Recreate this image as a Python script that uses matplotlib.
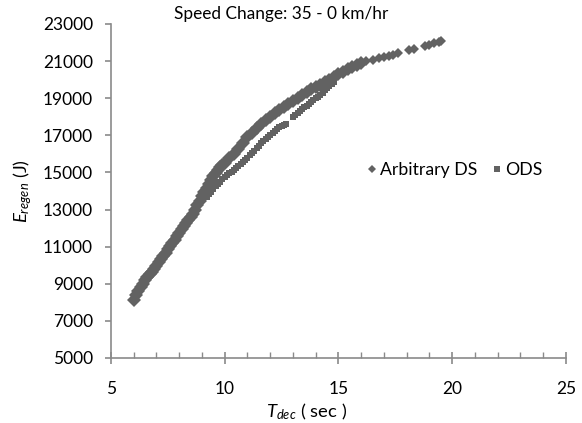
import matplotlib
matplotlib.use("Agg")
import matplotlib.pyplot as plt
from matplotlib.lines import Line2D
from matplotlib.ticker import MultipleLocator

plt.rcParams['font.family'] = ['Lato', 'DejaVu Sans']
plt.rcParams['mathtext.fontset'] = 'custom'
plt.rcParams['mathtext.rm'] = 'Lato'
plt.rcParams['mathtext.it'] = 'Lato:italic'

GRAY = '#626262'
AXIS = '#8a8a8a'

# Arbitrary DS - dense band
arb_t = [6.0, 6.1, 6.2, 6.3, 6.4, 6.5, 6.6, 6.7, 6.8, 6.9,
         7.0, 7.1, 7.2, 7.3, 7.4, 7.5, 7.6, 7.7, 7.8, 7.9,
         8.0, 8.1, 8.2, 8.3, 8.4, 8.5, 8.6, 8.7, 8.8, 8.9,
         9.0, 9.1, 9.2, 9.3, 9.4, 9.5, 9.6, 9.7, 9.8, 9.9,
         10.0, 10.2, 10.4, 10.6, 10.8, 11.0, 11.2, 11.4, 11.6, 11.8,
         12.0, 12.2, 12.4, 12.6, 12.8, 13.0, 13.2, 13.4, 13.6, 13.8,
         14.0, 14.2, 14.4, 14.6, 14.8, 15.0, 15.2, 15.4, 15.6, 15.8,
         16.0]
arb_e = [8150, 8380, 8600, 8800, 9000, 9180, 9350, 9500, 9650, 9800,
         9980, 10160, 10340, 10510, 10680, 10850, 11020, 11200, 11380, 11560,
         11750, 11930, 12100, 12260, 12420, 12590, 12780, 12990, 13220, 13460,
         13710, 13950, 14180, 14400, 14600, 14800, 14980, 15130, 15270, 15400,
         15520, 15780, 16000, 16270, 16580, 16900, 17150, 17400, 17600, 17800,
         18000, 18180, 18360, 18540, 18700, 18850, 19000, 19170, 19320, 19470,
         19600, 19730, 19850, 19980, 20130, 20280, 20430, 20580, 20700, 20800,
         20900]

# Arbitrary DS - sparse tail
arb_tail_t = [16.2, 16.5, 16.8, 17.0, 17.2, 17.4, 17.6, 18.1, 18.3,
              18.8, 19.0, 19.2, 19.4, 19.5]
arb_tail_e = [20980, 21080, 21150, 21230, 21280, 21350, 21420, 21600, 21650,
              21800, 21880, 21960, 22050, 22100]

# ODS - lower branch
ods_t = [9.2, 9.3, 9.4, 9.5, 9.6, 9.7, 9.8, 9.9, 10.0, 10.1,
         10.2, 10.3, 10.4, 10.5, 10.6, 10.7, 10.8, 10.9, 11.0, 11.1,
         11.2, 11.3, 11.4, 11.5, 11.6, 11.7, 11.8, 11.9, 12.0, 12.1,
         12.2, 12.3, 12.4, 12.5, 12.6, 12.7,
         13.0, 13.1, 13.2, 13.3, 13.4, 13.5, 13.6, 13.7, 13.8, 13.9,
         14.0, 14.1, 14.2, 14.3, 14.4, 14.5, 14.6, 14.7, 14.8]
ods_e = [13700, 13830, 13970, 14110, 14250, 14380, 14510, 14640, 14750, 14850,
         14950, 15050, 15150, 15250, 15350, 15450, 15560, 15680, 15800, 15920,
         16050, 16180, 16310, 16440, 16560, 16670, 16780, 16890, 17000, 17110,
         17220, 17330, 17430, 17500, 17560, 17620,
         18000, 18100, 18200, 18300, 18400, 18500, 18600, 18700, 18800, 18900,
         19000, 19080, 19180, 19300, 19420, 19540, 19650, 19750, 19850]

x_ticks = [5, 10, 15, 20, 25]
y_ticks = list(range(5000, 23001, 2000))

fig = plt.figure(figsize=(5.82, 4.23), dpi=100)
ax = fig.add_axes([0.1907, 0.1537, 0.7818, 0.7896])

ax.plot(arb_t, arb_e, linestyle='none', marker='D', markersize=7,
        color=GRAY, markeredgewidth=0)
ax.plot(arb_tail_t, arb_tail_e, linestyle='none', marker='D', markersize=5,
        color=GRAY, markeredgewidth=0)
ax.plot(ods_t, ods_e, linestyle='none', marker='s', markersize=4,
        color=GRAY, markeredgewidth=0)

ax.set_xlim(5, 25)
ax.set_ylim(5000, 23000)
ax.set_xticks(x_ticks)
ax.set_yticks(y_ticks)
ax.xaxis.set_minor_locator(MultipleLocator(1))

for s in ['top', 'right']:
    ax.spines[s].set_visible(False)
for s in ['left', 'bottom']:
    ax.spines[s].set_color(AXIS)
    ax.spines[s].set_linewidth(1.2)

ax.tick_params(axis='x', which='major', direction='inout', length=8,
               color=AXIS, width=1.2, labelsize=12.5, pad=12.5)
ax.tick_params(axis='x', which='minor', direction='in', length=4,
               color=AXIS, width=1.0)
ax.tick_params(axis='y', which='major', direction='out', length=4,
               color=AXIS, width=1.2, labelsize=12.5, pad=9)

ax.set_xlabel(r'$T_{dec}$ ( sec )', fontsize=13.3)
ax.set_ylabel(r'$E_{regen}$ (J)', fontsize=13.3)
ax.xaxis.set_label_coords(0.431, -0.13)
ax.yaxis.set_label_coords(-0.17, 0.5)

fig.text(0.483, 0.967, 'Speed Change: 35 - 0 km/hr', fontsize=12.4,
         ha='center', va='center')

handles = [
    Line2D([], [], linestyle='none', marker='D', markersize=4.5,
           color=GRAY, markeredgewidth=0),
    Line2D([], [], linestyle='none', marker='s', markersize=4.5,
           color=GRAY, markeredgewidth=0),
]
ax.legend(handles, ['Arbitrary DS', 'ODS'], loc='center left',
          bbox_to_anchor=(0.545, 0.563), frameon=False, borderpad=0,
          fontsize=12.7, ncol=2, handlelength=0.45, handletextpad=0.25,
          columnspacing=0.9)

fig.savefig('out.png', dpi=100)
